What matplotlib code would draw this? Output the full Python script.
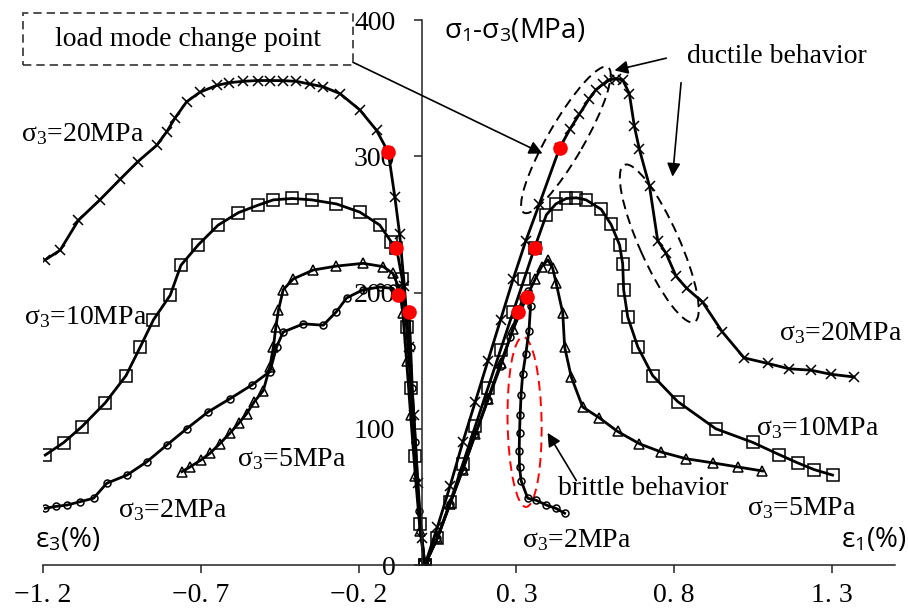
import matplotlib
matplotlib.use('Agg')
import matplotlib.pyplot as plt
from matplotlib.patches import Ellipse, Rectangle
from matplotlib import transforms

plt.rcParams['font.family'] = ['Liberation Serif', 'DejaVu Serif']
plt.rcParams['mathtext.fontset'] = 'custom'
plt.rcParams['mathtext.rm'] = 'Liberation Serif'
plt.rcParams['mathtext.it'] = 'Liberation Serif:italic'
plt.rcParams['mathtext.sf'] = 'Open Sans'

# --- lateral strain branch (eps3 < 0) ---
eps3_20 = [-1.193, -1.146, -1.088, -1.02, -0.956, -0.90, -0.840, -0.808, -0.782, -0.745, -0.703,
           -0.650, -0.610, -0.566, -0.52, -0.481, -0.44, -0.397, -0.355, -0.312, -0.259, -0.196,
           -0.143, -0.106, -0.085, -0.070, -0.055, -0.040, -0.025, -0.012, 0.0, 0.01]
q3_20 = [224, 231, 253, 268, 283, 296, 308, 318, 328, 340, 347, 352, 354, 355, 355.6, 355.6, 355.5,
         355, 353, 351, 346, 334, 319, 303, 270, 243, 205, 160, 110, 60, 20, 0]

eps3_10 = [-1.193, -1.135, -1.077, -1.003, -0.937, -0.892, -0.850, -0.797, -0.763, -0.708, -0.645,
           -0.581, -0.52, -0.470, -0.41, -0.349, -0.270, -0.196, -0.133, -0.096, -0.080, -0.062,
           -0.048, -0.034, -0.020, -0.006, 0.01]
q3_10 = [80.7, 89.8, 101.5, 119, 139, 160, 180, 198, 220, 235, 249.5, 258.6, 264, 268, 269, 268,
         265, 259, 249.5, 237, 233, 210, 175, 130, 80, 30, 0]

eps3_5 = [-0.760, -0.734, -0.700, -0.671, -0.640, -0.608, -0.580, -0.555, -0.530, -0.502, -0.481,
          -0.470, -0.462, -0.454, -0.439, -0.407, -0.344, -0.270, -0.186, -0.122, -0.091, -0.070,
          -0.060, -0.048, -0.035, -0.020, -0.005, 0.01]
q3_5 = [68.5, 72, 77, 82, 89, 96.7, 104, 111, 120, 128, 145.6, 160, 175, 187, 202, 210, 216.5,
        219.4, 221.4, 219, 214, 202, 185, 150, 110, 65, 25, 0]

eps3_2 = [-1.193, -1.160, -1.124, -1.082, -1.040, -0.998, -0.934, -0.871, -0.808, -0.745, -0.676,
          -0.608, -0.539, -0.481, -0.460, -0.439, -0.375, -0.312, -0.270, -0.238, -0.186, -0.133,
          -0.091, -0.075, -0.040, -0.035, -0.030, -0.020, -0.008, 0.01]
q3_2 = [41.6, 43, 44, 46.5, 49, 60, 66, 75.8, 88, 100, 112.5, 122, 132, 142, 160, 171, 177, 176,
        186, 196, 202, 204, 203, 198, 186, 160, 130, 90, 40, 0]

# --- axial strain branch (eps1 > 0) ---
eps1_20 = [0.01, 0.05, 0.09, 0.13, 0.17, 0.21, 0.25, 0.29, 0.33, 0.373, 0.437, 0.47, 0.5, 0.53,
           0.553, 0.575, 0.595, 0.615, 0.637, 0.658, 0.674, 0.690, 0.722, 0.748, 0.774, 0.806,
           0.840, 0.890, 0.953, 1.022, 1.096, 1.165, 1.233, 1.297, 1.370]
q1_20 = [0, 28, 58, 90, 120, 150, 180, 210, 238, 265, 306, 320, 331, 342, 349, 353, 356, 357, 356,
         346, 322, 305, 278, 238, 229, 212, 203, 193, 171, 152, 148, 144, 143, 140, 138]

eps1_10 = [0.01, 0.05, 0.09, 0.13, 0.17, 0.21, 0.25, 0.29, 0.325, 0.358, 0.395, 0.425, 0.458, 0.49,
           0.521, 0.569, 0.600, 0.627, 0.637, 0.640, 0.653, 0.685, 0.732, 0.811, 0.932, 1.049,
           1.133, 1.191, 1.244, 1.302]
q1_10 = [0, 20, 46, 74, 102, 130, 158, 186, 210, 233, 257, 265, 269, 269.5, 268, 261, 250, 235,
         221, 202, 182, 160, 139, 120, 100, 90, 81, 75, 70, 66]

eps1_5 = [0.01, 0.05, 0.09, 0.13, 0.17, 0.21, 0.25, 0.29, 0.333, 0.36, 0.38, 0.40, 0.415, 0.426,
          0.447, 0.453, 0.474, 0.510, 0.563, 0.621, 0.690, 0.758, 0.838, 0.922, 1.001, 1.080]
q1_5 = [0, 20, 45, 70, 96, 122, 148, 173, 197, 210, 219, 224, 218, 207, 185, 160, 138, 116, 108,
        98, 89, 83, 78, 75, 72, 69]

eps1_2 = [0.01, 0.05, 0.09, 0.13, 0.17, 0.21, 0.25, 0.28, 0.305, 0.322, 0.337, 0.345, 0.340, 0.330,
          0.320, 0.315, 0.312, 0.310, 0.309, 0.310, 0.315, 0.336, 0.363, 0.395, 0.426, 0.453]
q1_2 = [0, 20, 45, 70, 96, 121, 146, 167, 186, 196, 201, 190, 172, 155, 140, 125, 110, 97, 84, 72,
        62, 49, 47.5, 44, 41.5, 38]

# load mode change points
change_eps = [-0.106, -0.080, -0.075, -0.040, 0.437, 0.358, 0.333, 0.305]
change_q = [303, 233, 198, 186, 306, 233, 197, 186]

xticks = [-1.2, -0.7, -0.2, 0.3, 0.8, 1.3]
xtick_labels = ['\u22121. 2', '\u22120. 7', '\u22120. 2', '0. 3', '0. 8', '1. 3']
yticks = [0, 100, 200, 300, 400]

fig = plt.figure(figsize=(9.08, 6.14), dpi=100)
ax = fig.add_axes([0.0474, 0.0798, 0.9383, 0.8876])

curves = [
    (eps3_20, q3_20, 'x', 7), (eps1_20, q1_20, 'x', 7),
    (eps3_10, q3_10, 's', 8), (eps1_10, q1_10, 's', 8),
    (eps3_5, q3_5, '^', 7.5), (eps1_5, q1_5, '^', 7.5),
    (eps3_2, q3_2, 'o', 5), (eps1_2, q1_2, 'o', 5),
]
for x, y, m, ms in curves:
    ax.plot(x, y, color='black', lw=2, marker=m, ms=ms, mfc='none', mec='black', mew=1.1)

ax.plot(change_eps, change_q, ls='none', marker='o', ms=9.5, color='red', zorder=5)

ax.set_xlim(-1.2, 1.5)
ax.set_ylim(0, 400)
ax.spines['left'].set_position(('data', 0))
ax.spines['right'].set_visible(False)
ax.spines['top'].set_visible(False)
for s in ['left', 'bottom']:
    ax.spines[s].set_linewidth(1.1)
    ax.spines[s].set_color('#222222')
ax.set_xticks(xticks)
ax.set_xticklabels(xtick_labels)
ax.set_yticks(yticks)
ax.tick_params(axis='both', labelsize=20, direction='out', length=6, width=1.1, color='#222222')
ax.tick_params(axis='y', pad=13)
ax.tick_params(axis='x', pad=7)

sans = ['Open Sans', 'DejaVu Sans']
ax.text(0.294, 392, 'σ$_\\mathsf{1}$-σ$_\\mathsf{3}$(MPa)', fontsize=20, family=sans,
        ha='center', va='center')
ax.text(-1.122, 18, 'ε$_\\mathsf{3}$(%)', fontsize=20, family=sans, ha='center', va='center')
ax.text(1.434, 18, 'ε$_\\mathsf{1}$(%)', fontsize=20, family=sans, ha='center', va='center')

# curve labels
labels = [
    (-1.074, 316, '20'), (1.326, 170, '20'),
    (-1.066, 182, '10'), (1.255, 100.6, '10'),
    (-0.413, 78, '5'), (1.204, 42, '5'),
    (-0.790, 40, '2'), (0.492, 18, '2'),
]
for lx, ly, s3 in labels:
    ax.text(lx, ly, 'σ$_3$=' + s3 + 'MPa', fontsize=20, ha='center', va='center')

# load mode change point box + arrow
ax.add_patch(Rectangle((-1.263, 367), 1.045, 38.5, fill=False, ec='#333333', lw=1.2,
                       ls=(0, (5, 3)), clip_on=False))
ax.text(-0.741, 386, 'load mode change point', fontsize=20, ha='center', va='center')
arrow = dict(arrowstyle='-|>', color='black', lw=1.2, mutation_scale=20, shrinkA=0, shrinkB=0)
ax.annotate('', xy=(0.383, 302), xytext=(-0.218, 369), arrowprops=arrow)

# ductile behaviour
ax.text(1.127, 373, 'ductile behavior', fontsize=20, ha='center', va='center')
ax.annotate('', xy=(0.611, 363), xytext=(0.775, 372), arrowprops=arrow)
ax.annotate('', xy=(0.795, 285), xytext=(0.822, 354), arrowprops=arrow)

# brittle behaviour
ax.text(0.703, 56, 'brittle behavior', fontsize=20, ha='center', va='center')
ax.annotate('', xy=(0.399, 97), xytext=(0.490, 62), arrowprops=arrow)


def dashed_ellipse(cx, cy, w_px, h_px, angle, color):
    # ellipse sized in pixels, centred on a data point
    trans = fig.dpi_scale_trans + transforms.ScaledTranslation(cx, cy, ax.transData)
    ax.add_patch(Ellipse((0, 0), w_px / 100, h_px / 100, angle=angle, transform=trans,
                         fill=False, ec=color, lw=1.4, ls=(0, (5, 3))))


dashed_ellipse(0.457, 312, 168, 36, 60, 'black')
dashed_ellipse(0.753, 236, 172, 40, -66, 'black')
dashed_ellipse(0.326, 105, 170, 34, 91, 'red')

fig.savefig('out.png', dpi=100)
